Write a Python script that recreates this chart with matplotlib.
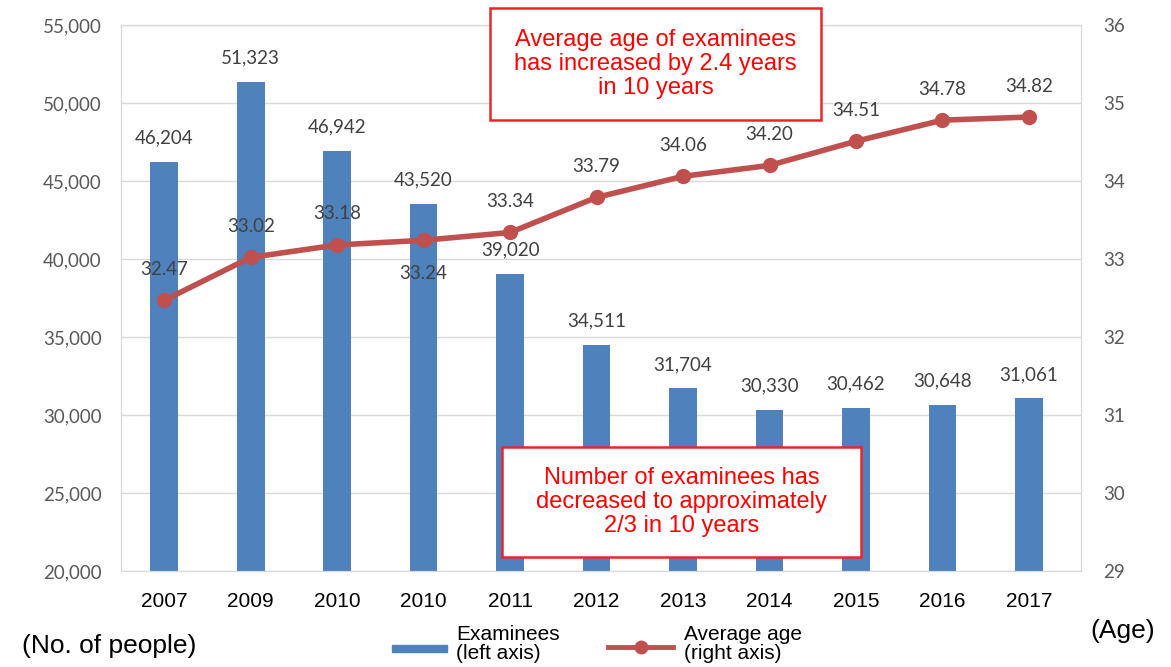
import matplotlib.pyplot as plt
from matplotlib.patches import Rectangle
from matplotlib.lines import Line2D

# data
years = ["2007", "2009", "2010", "2010", "2011", "2012", "2013", "2014", "2015", "2016", "2017"]
examinees = [46204, 51323, 46942, 43520, 39020, 34511, 31704, 30330, 30462, 30648, 31061]
avg_age = [32.47, 33.02, 33.18, 33.24, 33.34, 33.79, 34.06, 34.20, 34.51, 34.78, 34.82]
age_below = [False, False, False, True, False, False, False, False, False, False, False]

bar_color = "#4f81bd"
line_color = "#c0504d"
grid_color = "#d9d9d9"
tick_color = "#595959"
num_font = "Lato"
txt_font = "Liberation Sans"

fig = plt.figure(figsize=(11.71, 6.67), dpi=100)
ax = fig.add_axes([0.1033, 0.144, 0.8197, 0.8185])
ax2 = ax.twinx()

x = list(range(len(years)))
ax.bar(x, examinees, width=0.32, color=bar_color, zorder=2)
ax.set_ylim(20000, 55000)
ax.set_yticks(range(20000, 55001, 5000))
ax.set_yticklabels([f"{v:,}" for v in range(20000, 55001, 5000)],
                   fontfamily=num_font, fontsize=13.5, color=tick_color)
ax.set_xlim(-0.5, 10.6)
ax.set_xticks(x)
ax.set_xticklabels(years, fontfamily=txt_font, fontsize=15, color="black")
ax.grid(axis="y", color=grid_color, linewidth=1, zorder=0)
ax.tick_params(axis="y", length=0, pad=14)
ax.tick_params(axis="x", length=0, pad=15)
for s in ax.spines.values():
    s.set_color(grid_color)

for xi, v in zip(x, examinees):
    ax.annotate(f"{v:,}", (xi, v), xytext=(0, 24), textcoords="offset pixels",
                ha="center", va="center", fontfamily=num_font, fontsize=13.5,
                color="#404040")

ax2.plot(x, avg_age, color=line_color, linewidth=4, marker="o", markersize=10,
         solid_capstyle="round", zorder=3)
ax2.set_ylim(29, 36)
ax2.set_yticks(range(29, 37))
ax2.set_yticklabels([str(v) for v in range(29, 37)],
                    fontfamily=num_font, fontsize=13.5, color=tick_color)
ax2.tick_params(length=0, pad=16)
for s in ax2.spines.values():
    s.set_color(grid_color)

for xi, v, below in zip(x, avg_age, age_below):
    dy = -33 if below else 31
    ax2.annotate(f"{v:.2f}", (xi, v), xytext=(0, dy), textcoords="offset pixels",
                 ha="center", va="center", fontfamily=num_font, fontsize=13.5,
                 color="#404040")

# callout boxes
def callout(x0, y0, w, h, text):
    fig.patches.append(Rectangle((x0 / 1171, 1 - (y0 + h) / 667), w / 1171, h / 667,
                                 transform=fig.transFigure, facecolor="white",
                                 edgecolor="#e8262b", linewidth=1.8, zorder=5))
    fig.text((x0 + w / 2) / 1171, 1 - (y0 + h / 2) / 667, text, ha="center",
             va="center", color="#ff0000", fontfamily=txt_font, fontsize=17,
             linespacing=1.12, zorder=6)

callout(490, 8, 331, 112, "Average age of examinees\nhas increased by 2.4 years\nin 10 years")
callout(502, 447, 359, 110, "Number of examinees has\ndecreased to approximately\n2/3 in 10 years")

# bottom texts and legend
fig.text(22 / 1171, 1 - 646 / 667, "(No. of people)", ha="left", va="center",
         fontfamily=txt_font, fontsize=19)
fig.text(1155 / 1171, 1 - 631 / 667, "(Age)", ha="right", va="center",
         fontfamily=txt_font, fontsize=19)

fig.patches.append(Rectangle((392 / 1171, 1 - 652 / 667), 55 / 1171, 7 / 667,
                             transform=fig.transFigure, color=bar_color))
fig.text(456 / 1171, 1 - 644 / 667, "Examinees\n(left axis)", ha="left", va="center",
         fontfamily=txt_font, fontsize=15, linespacing=1.0)
fig.lines.append(Line2D([608 / 1171, 673 / 1171], [1 - 647 / 667, 1 - 647 / 667],
                        transform=fig.transFigure, color=line_color, linewidth=3.5))
fig.lines.append(Line2D([640.5 / 1171], [1 - 647 / 667], transform=fig.transFigure,
                        color=line_color, marker="o", markersize=9, linestyle="none"))
fig.text(684 / 1171, 1 - 644 / 667, "Average age\n(right axis)", ha="left", va="center",
         fontfamily=txt_font, fontsize=15, linespacing=1.0)

fig.savefig("out.png", dpi=100)
